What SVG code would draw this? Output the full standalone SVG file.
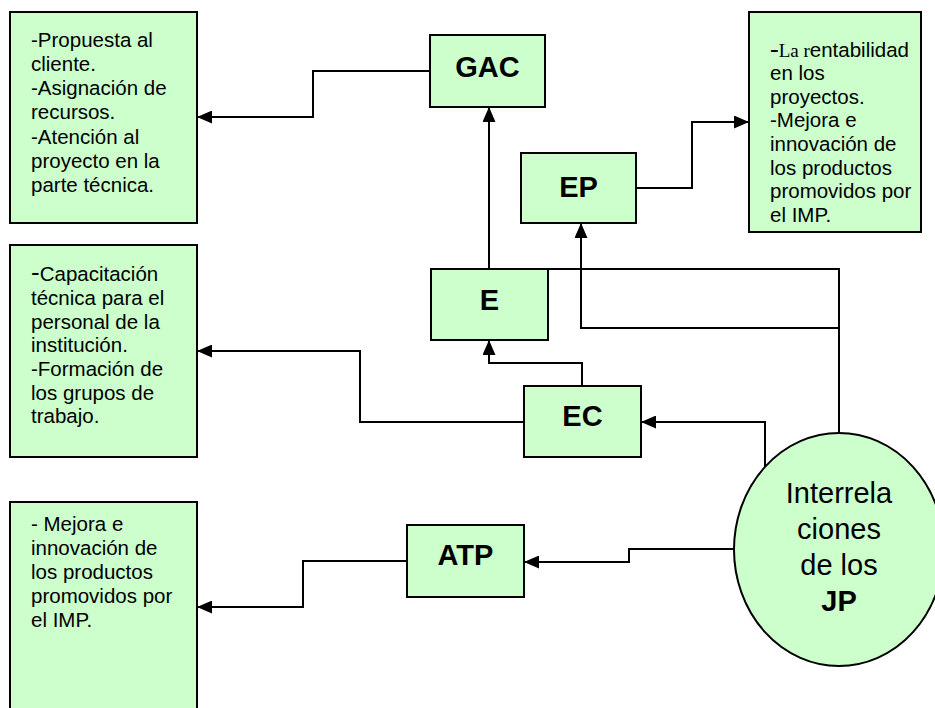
<svg xmlns="http://www.w3.org/2000/svg" width="935" height="708" viewBox="0 0 935 708">
<style>
.box{fill:#CCFFCC;stroke:#000;stroke-width:2}
.conn{fill:none;stroke:#000;stroke-width:2}
.t{font-family:"Liberation Sans",Arial,sans-serif;font-size:20.5px;fill:#000}
.lbl{font-family:"Liberation Sans",Arial,sans-serif;font-size:29px;font-weight:bold;fill:#000;text-anchor:middle}
.ct{font-family:"Liberation Sans",Arial,sans-serif;font-size:29px;fill:#000;text-anchor:middle}
.serif{font-family:"Liberation Serif","Times New Roman",serif}
</style>
<defs>
<marker id="ah" markerUnits="userSpaceOnUse" markerWidth="15" markerHeight="13" refX="15" refY="6.5" orient="auto">
<path d="M0,0 L15,6.5 L0,13 z" fill="#000"/>
</marker>
</defs>
<g id="connectors">
<path class="conn" d="M430,71 H313 V117 H197" marker-end="url(#ah)"/>
<path class="conn" d="M489,269 V107" marker-end="url(#ah)"/>
<path class="conn" d="M636,188 H692 V122 H749" marker-end="url(#ah)"/>
<path class="conn" d="M839,433 V269 H548"/>
<path class="conn" d="M839,328 H581 V223" marker-end="url(#ah)"/>
<path class="conn" d="M582,386 V363 H489 V340" marker-end="url(#ah)"/>
<path class="conn" d="M765,467 V422 H641" marker-end="url(#ah)"/>
<path class="conn" d="M524,422 H360 V351 H197" marker-end="url(#ah)"/>
<path class="conn" d="M734,549 H629 V562 H524" marker-end="url(#ah)"/>
<path class="conn" d="M407,561 H303 V607 H197" marker-end="url(#ah)"/>
</g>
<g id="box1">
<rect class="box" x="10" y="12" width="187" height="211"/>
<text class="t" x="31" y="47">-Propuesta al</text>
<text class="t" x="31" y="71">cliente.</text>
<text class="t" x="31" y="95">-Asignación de</text>
<text class="t" x="31" y="119">recursos.</text>
<text class="t" x="31" y="144">-Atención al</text>
<text class="t" x="31" y="168">proyecto en la</text>
<text class="t" x="31" y="192">parte técnica.</text>
</g>
<g id="box2">
<rect class="box" x="10" y="245" width="187" height="212"/>
<text class="t" x="31" y="281"><tspan font-size="26">-</tspan>Capacitación</text>
<text class="t" x="31" y="305">técnica para el</text>
<text class="t" x="31" y="329">personal de la</text>
<text class="t" x="31" y="352">institución.</text>
<text class="t" x="31" y="376">-Formación de</text>
<text class="t" x="31" y="400">los grupos de</text>
<text class="t" x="31" y="423">trabajo.</text>
</g>
<g id="box3">
<rect class="box" x="10" y="502" width="187" height="220"/>
<text class="t" x="31" y="531">- Mejora e</text>
<text class="t" x="31" y="555">innovación de</text>
<text class="t" x="31" y="579">los productos</text>
<text class="t" x="31" y="603">promovidos por</text>
<text class="t" x="31" y="627">el IMP.</text>
</g>
<g id="box4">
<rect class="box" x="749" y="12" width="172" height="220"/>
<text class="t" x="770" y="57"><tspan class="serif" font-size="26">-</tspan><tspan class="serif" font-size="19">La r</tspan>entabilidad</text>
<text class="t" x="770" y="80">en los</text>
<text class="t" x="770" y="104">proyectos.</text>
<text class="t" x="770" y="127">-Mejora e</text>
<text class="t" x="770" y="151">innovación de</text>
<text class="t" x="770" y="175">los productos</text>
<text class="t" x="770" y="198">promovidos por</text>
<text class="t" x="770" y="222">el IMP.</text>
</g>
<g id="GAC">
<rect class="box" x="430" y="35" width="115" height="72"/>
<text class="lbl" x="487.5" y="77">GAC</text>
</g>
<g id="EP">
<rect class="box" x="521" y="153" width="115" height="70"/>
<text class="lbl" x="578.5" y="197">EP</text>
</g>
<g id="E">
<rect class="box" x="431" y="269" width="117" height="71"/>
<text class="lbl" x="489.5" y="310">E</text>
</g>
<g id="EC">
<rect class="box" x="524" y="386" width="117" height="71"/>
<text class="lbl" x="582.5" y="426">EC</text>
</g>
<g id="ATP">
<rect class="box" x="407" y="525" width="117" height="72"/>
<text class="lbl" x="465.5" y="565">ATP</text>
</g>
<g id="JP">
<ellipse class="box" cx="839" cy="549.5" rx="105" ry="116.5"/>
<text class="ct" x="839" y="503">Interrela</text>
<text class="ct" x="839" y="539">ciones</text>
<text class="ct" x="839" y="575">de los</text>
<text class="ct" x="839" y="611" font-weight="bold">JP</text>
</g>
</svg>
